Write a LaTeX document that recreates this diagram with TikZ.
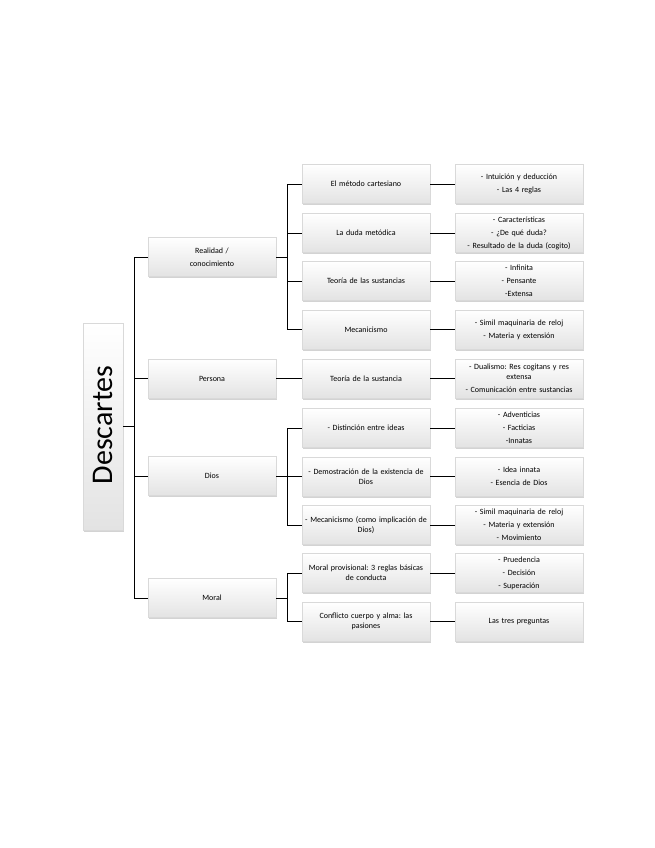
\documentclass[tikz,border=0pt]{standalone}
\usepackage{fontspec}
\setmainfont{Carlito}
\usetikzlibrary{shadows}
\frenchspacing
\begin{document}
\begin{tikzpicture}[x=1pt,y=-1pt,
  box/.style={draw=gray!30, line width=0.3pt, top color=white, bottom color=gray!22,
    minimum width=128pt, minimum height=39pt, text width=126pt, align=center,
    font=\fontsize{8}{10}\selectfont, inner sep=1pt,
    drop shadow={shadow xshift=1.2pt, shadow yshift=-1.6pt, opacity=0.35, fill=gray}},
  conn/.style={line width=0.9pt, draw=black}]
\useasboundingbox (0,0) rectangle (655,848);

% root
\node[box, minimum width=40pt, minimum height=207pt, text width=36pt] (root) at (103,426.5) {};
\node[rotate=90, font=\fontsize{30}{30}\selectfont, inner sep=0pt] (roottext) at (103,425) {Descartes};

% level 1
\node[box] (l1a) at (212,257) {Realidad /\\[3pt]conocimiento};
\node[box] (l1b) at (212,378.5) {Persona};
\node[box] (l1c) at (212,476) {Dios};
\node[box] (l1d) at (212,598) {Moral};

% level 2
\node[box] (a1) at (366,184) {El método cartesiano};
\node[box] (a2) at (366,233) {La duda metódica};
\node[box] (a3) at (366,281) {Teoría de las sustancias};
\node[box] (a4) at (366,329.5) {Mecanicismo};
\node[box] (b1) at (366,378.5) {Teoría de la sustancia};
\node[box] (c1) at (366,428) {- Distinción entre ideas};
\node[box] (c2) at (366,476.5) {- Demostración de la existencia de\\Dios};
\node[box] (c3) at (366,525) {- Mecanicismo (como implicación de\\Dios)};
\node[box] (d1) at (366,573) {Moral provisional: 3 reglas básicas\\de conducta};
\node[box] (d2) at (366,621.5) {Conflicto cuerpo y alma: las\\pasiones};

% level 3
\node[box] (a1x) at (519,184) {- Intuición y deducción\\[3pt]- Las 4 reglas};
\node[box] (a2x) at (519,233) {- Características\\[3pt]- ¿De qué duda?\\[3pt]- Resultado de la duda (cogito)};
\node[box] (a3x) at (519,281) {- Infinita\\[3pt]- Pensante\\[3pt]-Extensa};
\node[box] (a4x) at (519,329.5) {- Simil maquinaria de reloj\\[3pt]- Materia y extensión};
\node[box] (b1x) at (519,378.5) {- Dualismo: Res cogitans y res\\extensa\\[3pt]- Comunicación entre sustancias};
\node[box] (c1x) at (519,428) {- Adventicias\\[3pt]- Facticias\\[3pt]-Innatas};
\node[box] (c2x) at (519,476.5) {- Idea innata\\[3pt]- Esencia de Dios};
\node[box] (c3x) at (519,525) {- Simil maquinaria de reloj\\[3pt]- Materia y extensión\\[3pt]- Movimiento};
\node[box] (d1x) at (519,573) {- Pruedencia\\[3pt]- Decisión\\[3pt]- Superación};
\node[box] (d2x) at (519,621.5) {Las tres preguntas};

% root connectors
\draw[conn] (root.east) -- ++(12,0);
\draw[conn] (l1a.west) -- ++(-13,0) |- (l1d.west);
\draw[conn] (l1b.west) -- ++(-13,0);
\draw[conn] (l1c.west) -- ++(-13,0);

% Realidad
\draw[conn] (l1a.east) -- ++(12,0);
\draw[conn] (a1.west) -- ++(-14,0) |- (a4.west);
\draw[conn] (a2.west) -- ++(-14,0);
\draw[conn] (a3.west) -- ++(-14,0);
% Persona
\draw[conn] (l1b.east) -- (b1.west);
% Dios
\draw[conn] (l1c.east) -- ++(12,0);
\draw[conn] (c1.west) -- ++(-14,0) |- (c3.west);
\draw[conn] (c2.west) -- ++(-14,0);
% Moral
\draw[conn] (l1d.east) -- ++(12,0);
\draw[conn] (d1.west) -- ++(-14,0) |- (d2.west);

% level 2 -> level 3
\foreach \s in {a1,a2,a3,a4,b1,c1,c2,c3,d1,d2}
  \draw[conn] (\s.east) -- (\s x.west);
\end{tikzpicture}
\end{document}
